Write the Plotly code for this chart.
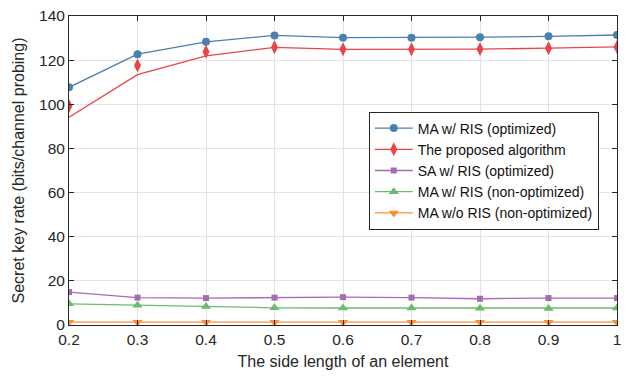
import plotly.graph_objects as go

x = [0.2, 0.3, 0.4, 0.5, 0.6, 0.7, 0.8, 0.9, 1.0]
ma_ris_opt = [107.7, 122.7, 128.3, 131.2, 130.2, 130.2, 130.4, 130.8, 131.4]
proposed_markers = [99.2, 117.6, 123.8, 125.8, 124.9, 124.9, 125.0, 125.4, 126.0]
proposed_line = [94.1, 113.4, 121.9, 125.8, 124.9, 124.9, 125.0, 125.4, 126.0]
sa_ris_opt = [14.9, 12.4, 12.2, 12.4, 12.6, 12.4, 11.9, 12.2, 12.2]
ma_ris_nonopt = [9.6, 8.9, 8.4, 7.8, 7.7, 7.7, 7.6, 7.5, 7.7]
ma_noris_nonopt = [1.3, 1.3, 1.3, 1.3, 1.3, 1.3, 1.3, 1.3, 1.3]

names = ["MA w/ RIS (optimized)", "The proposed algorithm", "SA w/ RIS (optimized)",
         "MA w/ RIS (non-optimized)", "MA w/o RIS (non-optimized)"]

BLUE = "#4b80b1"
RED = "#e8454b"
PURPLE = "#a56bb5"
GREEN = "#6cbd6a"
ORANGE = "#f7923a"
FONT = "Liberation Sans, Arial, sans-serif"

fig = go.Figure()

fig.add_trace(go.Scatter(x=x, y=ma_ris_opt, mode="lines+markers", name=names[0],
                         line=dict(color=BLUE, width=1.3),
                         marker=dict(symbol="circle", size=8, color=BLUE)))
# proposed: separate line and markers
fig.add_trace(go.Scatter(x=x, y=proposed_line, mode="lines", showlegend=False,
                         line=dict(color=RED, width=1.3)))
fig.add_trace(go.Scatter(x=x, y=proposed_markers, mode="markers", showlegend=False,
                         marker=dict(symbol="diamond-tall", size=10, color=RED)))
fig.add_trace(go.Scatter(x=[None], y=[None], mode="lines+markers", name=names[1],
                         line=dict(color=RED, width=1.3),
                         marker=dict(symbol="diamond-tall", size=10, color=RED)))
fig.add_trace(go.Scatter(x=x, y=sa_ris_opt, mode="lines+markers", name=names[2],
                         line=dict(color=PURPLE, width=1.3),
                         marker=dict(symbol="square", size=6, color=PURPLE)))
fig.add_trace(go.Scatter(x=x, y=ma_ris_nonopt, mode="lines+markers", name=names[3],
                         line=dict(color=GREEN, width=1.3),
                         marker=dict(symbol="triangle-up", size=9, color=GREEN)))
fig.add_trace(go.Scatter(x=x, y=ma_noris_nonopt, mode="lines+markers", name=names[4],
                         line=dict(color=ORANGE, width=1.3),
                         marker=dict(symbol="triangle-down", size=9, color=ORANGE)))

axis_common = dict(showline=True, linecolor="#262626", linewidth=1, mirror="ticks",
                   ticks="inside", ticklen=5, tickcolor="#262626",
                   showgrid=True, gridcolor="#e3e3e3", gridwidth=1, zeroline=False,
                   automargin=False,
                   tickfont=dict(family=FONT, size=15.5, color="#262626"))

fig.update_xaxes(range=[0.2, 1.0], tickvals=[0.2, 0.3, 0.4, 0.5, 0.6, 0.7, 0.8, 0.9, 1.0],
                 ticktext=["0.2", "0.3", "0.4", "0.5", "0.6", "0.7", "0.8", "0.9", "1"],
                 title=dict(text="The side length of an element", standoff=9,
                            font=dict(family=FONT, size=16, color="#262626")),
                 **axis_common)
fig.update_yaxes(range=[0, 140], tickvals=[0, 20, 40, 60, 80, 100, 120, 140],
                 title=dict(text="Secret key rate (bits/channel probing)", standoff=10,
                            font=dict(family=FONT, size=16, color="#262626")),
                 **axis_common)

fig.update_layout(
    width=629, height=377,
    margin=dict(l=69, r=12, t=16, b=52),
    plot_bgcolor="white", paper_bgcolor="white",
    font=dict(family=FONT, color="#262626"),
    legend=dict(x=0.547, y=0.5, xanchor="left", yanchor="middle",
                bgcolor="white", bordercolor="#262626", borderwidth=1,
                font=dict(family=FONT, size=14, color="#111111"),
                tracegroupgap=0, itemwidth=38),
)

fig.write_html("out.html")
